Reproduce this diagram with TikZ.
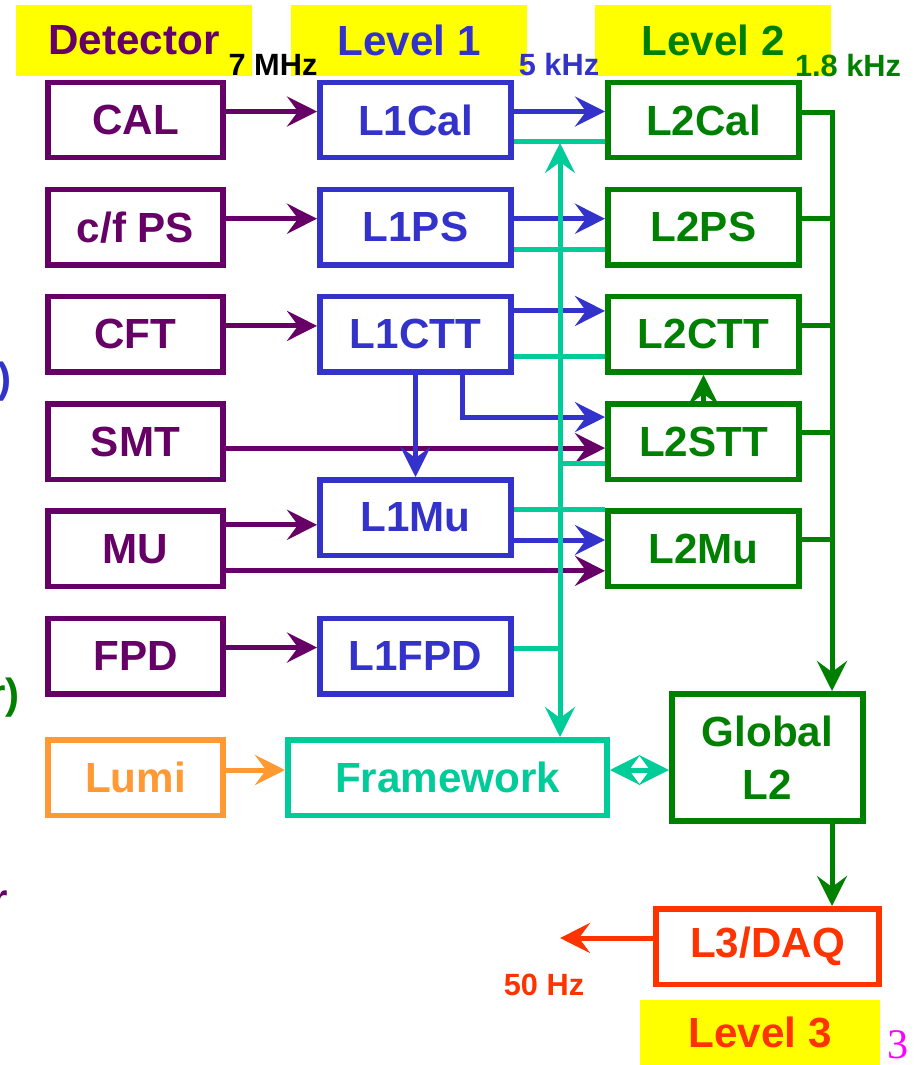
\documentclass[tikz,border=0pt]{standalone}
\usepackage{fontspec}
\setmainfont{Liberation Sans}
\newfontfamily\pagefont{Liberation Serif}
\usepackage{tikz}
\usetikzlibrary{arrows.meta,positioning}
\definecolor{TrigPurple}{HTML}{660066}
\definecolor{TrigBlue}{HTML}{3333CC}
\definecolor{TrigGreen}{HTML}{008000}
\definecolor{TrigTeal}{HTML}{00CC99}
\definecolor{TrigOrange}{HTML}{FF9933}
\definecolor{TrigRed}{HTML}{FF3300}
\definecolor{TrigYellow}{HTML}{FFFF00}
\definecolor{PageMagenta}{HTML}{FF00FF}
\newcommand{\bigbf}{\fontsize{24}{30}\selectfont\bfseries}
\newcommand{\ratebf}{\fontsize{17.5}{20}\selectfont\bfseries}
\tikzset{
  box/.style={draw=#1, text=#1, fill=white, line width=0.11cm, inner sep=0pt,
    minimum width=3.83cm, minimum height=1.51cm, font=\bigbf},
  detbox/.style={box=#1, minimum width=3.51cm},
  detbox/.default=TrigPurple,
  lonebox/.style={box=TrigBlue},
  ltwobox/.style={box=TrigGreen},
  banner/.style={fill=TrigYellow, inner sep=0pt, minimum width=4.74cm,
    minimum height=1.42cm, font=\bigbf},
  rate/.style={anchor=base, inner sep=0pt, font=\ratebf},
  cut/.style={inner sep=0pt, font=\bigbf},
  wire/.style={line width=0.1cm},
  link/.style={wire, ->},
  twoway/.style={wire, <->}
}

\begin{document}
\begin{tikzpicture}[x=0.02cm, y=-0.02cm,
    >={Stealth[length=0.6cm, width=0.6cm, inset=0.22cm]}]
  \useasboundingbox (0,0) rectangle (914,1065);
  % level headers
  \node[banner, text=TrigPurple] (DetHead) at (134,40.5) {Detector};
  \node[banner, text=TrigBlue] (LoneHead) at (409,40.5) {Level 1};
  \node[banner, text=TrigGreen] (LtwoHead) at (713,40.5) {Level 2};
  \node[banner, text=TrigRed, minimum width=4.8cm, minimum height=1.3cm]
    (LthreeHead) at (760,1032.5) {Level 3};
  \node[rate] (rateDet) at (273,75) {7 MHz};
  \node[rate, text=TrigBlue] (rateLone) at (559,75) {5 kHz};
  \node[rate, text=TrigGreen] (rateLtwo) at (848,76) {1.8 kHz};
  \node[rate, text=TrigRed] (rateLthree) at (544,995) {50 Hz};
  \node[anchor=base, inner sep=0pt, text=PageMagenta,
    font=\pagefont\fontsize{24}{28}\selectfont] (pagenum) at (898,1058) {3};
  % text cut off at the slide edge
  \node[cut, anchor=east, text=TrigBlue] (cutA) at (12,382) {)};
  \node[cut, anchor=east, text=TrigGreen] (cutB) at (20,698) {r)};
  \node[cut, anchor=base east, text=TrigPurple] (cutC) at (8,913) {r};
  % boxes
  \foreach \n/\t/\k in {CAL/CAL/0, cfPS/{c/f PS}/1, CFT/CFT/2, SMT/SMT/3, MU/MU/4, FPD/FPD/5}
    {\node[detbox] (\n) at (135.5,{120+107.2*\k}) {\t};}
  \foreach \n/\k in {L1Cal/0, L1PS/1, L1CTT/2, L1FPD/5}
    {\node[lonebox] (\n) at (415.5,{120+107.2*\k}) {\n};}
  \node[lonebox] (L1Mu) at (415.5,517.5) {L1Mu};
  \foreach \n/\k in {L2Cal/0, L2PS/1, L2CTT/2, L2STT/3, L2Mu/4}
    {\node[ltwobox] (\n) at (703.5,{120+107.2*\k}) {\n};}
  \node[detbox=TrigOrange] (Lumi) at (135.5,777.5) {Lumi};
  \node[box=TrigTeal, minimum width=6.39cm] (Framework) at (447.5,777.5) {Framework};
  \node[ltwobox, minimum height=2.55cm, align=center] (GlobalL2) at (767.5,757.5) {Global\\L2};
  \node[box=TrigRed, minimum width=4.47cm] (L3DAQ) at (767.5,946.5) {L3/DAQ};
  \coordinate (tbus) at (560,143);
  \coordinate (gbus) at (832,0);
  % detector data
  \foreach \d/\l in {CAL/L1Cal, cfPS/L1PS, CFT/L1CTT, FPD/L1FPD}
    {\draw[link, TrigPurple] ([yshift=0.17cm]\d.east) -- ([yshift=0.17cm]\d.east -| \l.west);}
  \draw[link, TrigPurple] ([yshift=0.48cm]MU.east) -- ([yshift=0.48cm]MU.east -| L1Mu.west);
  \draw[link, TrigPurple] ([yshift=-0.44cm]MU.east) -- ([yshift=-0.44cm]MU.east -| L2Mu.west);
  \draw[link, TrigPurple] ([yshift=-0.13cm]SMT.east) -- ([yshift=-0.13cm]SMT.east -| L2STT.west);
  \draw[link, TrigOrange] ([yshift=0.15cm]Lumi.east) -- ([yshift=0.15cm]Lumi.east -| Framework.west);
  % level 1 to level 2
  \foreach \a/\b in {L1Cal/L2Cal, L1PS/L2PS}
    {\draw[link, TrigBlue] ([yshift=0.17cm]\a.east) -- ([yshift=0.17cm]\a.east -| \b.west);}
  \draw[link, TrigBlue] ([yshift=0.47cm]L1CTT.east) -- ([yshift=0.47cm]L1CTT.east -| L2CTT.west);
  \draw[link, TrigBlue] ([yshift=-0.45cm]L1Mu.east) -- ([yshift=-0.45cm]L1Mu.east -| L2Mu.west);
  \draw[link, TrigBlue] (L1CTT.south) -- (L1CTT.south |- L1Mu.north);
  \draw[link, TrigBlue] ([xshift=0.95cm]L1CTT.south) |- ([yshift=0.49cm]L2STT.west);
  % framework lines
  \foreach \a/\b in {L1Cal/L2Cal, L1PS/L2PS, L1CTT/L2CTT}
    {\draw[wire, TrigTeal] ([yshift=-0.44cm]\a.east) -- ([yshift=-0.44cm]\a.east -| \b.west);}
  \draw[wire, TrigTeal] ([yshift=-0.43cm]L2STT.west -| tbus) -- ([yshift=-0.43cm]L2STT.west);
  \draw[wire, TrigTeal] ([yshift=0.17cm]L1Mu.east) -- ([yshift=0.17cm]L1Mu.east -| L2Mu.west);
  \draw[wire, TrigTeal] ([yshift=0.16cm]L1FPD.east) -- ([yshift=0.16cm]L1FPD.east -| tbus);
  \draw[twoway, TrigTeal] (Framework.north -| tbus) -- (tbus);
  \draw[twoway, TrigTeal] ([yshift=0.15cm]Framework.east) -- ([yshift=0.15cm]Framework.east -| GlobalL2.west);
  % level 2 to global
  \draw[link, TrigGreen] ([yshift=0.16cm]L2Cal.east) -| (GlobalL2.north -| gbus);
  \foreach \b in {L2PS, L2CTT, L2STT, L2Mu}
    {\draw[wire, TrigGreen] ([yshift=0.18cm]\b.east) -- ([yshift=0.18cm]\b.east -| gbus);}
  \draw[link, TrigGreen] (L2STT.north) -- (L2CTT.south);
  \draw[link, TrigGreen] (GlobalL2.south -| gbus) -- (L3DAQ.north -| gbus);
  \draw[link, TrigRed] ([yshift=0.17cm]L3DAQ.west) -- ++(-93,0);
\end{tikzpicture}
\end{document}
